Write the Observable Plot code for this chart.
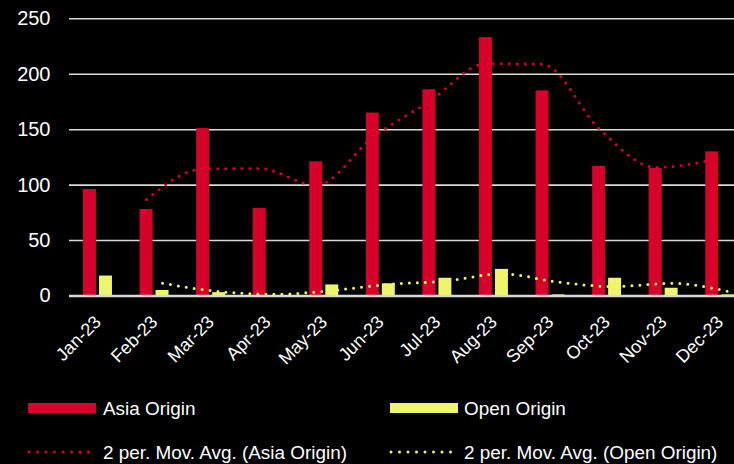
<!DOCTYPE html>
<html>
<head>
<meta charset="utf-8">
<script src="https://cdn.jsdelivr.net/npm/d3@7"></script>
<script src="https://cdn.jsdelivr.net/npm/@observablehq/plot@0.6"></script>
<style>
  html, body { margin: 0; padding: 0; background: #000; overflow: hidden; }
  body { width: 734px; height: 464px; position: relative; font-family: "Liberation Sans", Arial, sans-serif; color: #fff; }
  #chart { position: absolute; left: 0; top: 0; }
  .leg { position: absolute; font-size: 18.9px; line-height: 18px; color: #fff; white-space: nowrap; }
  .sw { position: absolute; }
</style>
</head>
<body>
<div id="chart"></div>
<div id="legend"></div>
<script>
const months = ["Jan-23","Feb-23","Mar-23","Apr-23","May-23","Jun-23","Jul-23","Aug-23","Sep-23","Oct-23","Nov-23","Dec-23"];
const asiaOrigin = [96, 78, 151, 79, 121, 165, 186, 233, 185, 117, 115, 130];
const openOrigin = [18, 5, 3, 0, 10, 11, 16, 24, 1, 16, 7, 1];
const yTicks = [0, 50, 100, 150, 200, 250];
const seriesNames = ["Asia Origin", "Open Origin", "2 per. Mov. Avg. (Asia Origin)", "2 per. Mov. Avg. (Open Origin)"];

const RED = "#d6002b";
const YELLOW = "#eef56b";

const data = months.map((m, i) => ({month: m, asia: asiaOrigin[i], open: openOrigin[i]}));
const ma = months.slice(1).map((m, k) => ({
  month: m,
  asiaMA: (asiaOrigin[k] + asiaOrigin[k + 1]) / 2,
  openMA: (openOrigin[k] + openOrigin[k + 1]) / 2
}));

const plot = Plot.plot({
  width: 734,
  height: 392,
  marginLeft: 69,
  marginRight: 0,
  marginTop: 18,
  marginBottom: 96,
  style: {background: "#000", color: "#fff", fontFamily: "'Liberation Sans', Arial, sans-serif", overflow: "visible"},
  x: {type: "band", domain: months, range: [69.2, 748], padding: 0, round: false, axis: null},
  y: {domain: [0, 250], range: [295.5, 18.3], axis: null},
  marks: [
    Plot.gridY(yTicks.filter(t => t > 0), {stroke: "#d9d9d9", strokeOpacity: 1, strokeWidth: 1.6}),
    Plot.axisY(yTicks, {tickSize: 0, tickPadding: 19, fontSize: 20, fill: "#fff", anchor: "left"}),
    Plot.barY(data, {x: "month", y: "asia", fill: RED, insetLeft: 13.8, insetRight: 29.8}),
    Plot.barY(data, {x: "month", y: "open", fill: YELLOW, insetLeft: 29.8, insetRight: 13.8}),
    Plot.ruleY([0], {stroke: "#d9d9d9", strokeWidth: 2.6}),
    Plot.line(ma, {x: "month", y: "asiaMA", stroke: RED, strokeWidth: 3, strokeDasharray: "0 8", strokeLinecap: "round", curve: "monotone-x", dx: -8}),
    Plot.line(ma, {x: "month", y: "openMA", stroke: YELLOW, strokeWidth: 3, strokeDasharray: "0 8", strokeLinecap: "round", curve: "monotone-x", dx: 8}),
    Plot.text(months, {x: d => d, y: () => 0, text: d => d, rotate: -45, textAnchor: "end", lineAnchor: "middle", dx: 0, dy: 23, fontSize: 18, fill: "#fff"})
  ]
});
document.getElementById("chart").appendChild(plot);

// Legend
const legend = document.getElementById("legend");
const legendItems = [
  {name: seriesNames[0], color: RED, type: "bar", x: 28, textX: 103, y: 408, top: 400},
  {name: seriesNames[1], color: YELLOW, type: "bar", x: 390, textX: 464, y: 408, top: 400},
  {name: seriesNames[2], color: RED, type: "dot", x: 28, textX: 103, y: 452, top: 443.5},
  {name: seriesNames[3], color: YELLOW, type: "dot", x: 390, textX: 464, y: 452, top: 443.5}
];
legendItems.forEach(it => {
  const ns = "http://www.w3.org/2000/svg";
  const svg = document.createElementNS(ns, "svg");
  svg.setAttribute("width", 72);
  svg.setAttribute("height", 14);
  svg.setAttribute("class", "sw");
  svg.style.left = (it.x - 1) + "px";
  svg.style.top = (it.y - 7) + "px";
  if (it.type === "bar") {
    const r = document.createElementNS(ns, "rect");
    r.setAttribute("x", 1); r.setAttribute("y", 2); r.setAttribute("width", 68); r.setAttribute("height", 10);
    r.setAttribute("fill", it.color);
    svg.appendChild(r);
  } else {
    const l = document.createElementNS(ns, "line");
    l.setAttribute("x1", 2); l.setAttribute("x2", 70); l.setAttribute("y1", 7); l.setAttribute("y2", 7);
    l.setAttribute("stroke", it.color); l.setAttribute("stroke-width", 3);
    l.setAttribute("stroke-linecap", "round"); l.setAttribute("stroke-dasharray", "0 8.5");
    svg.appendChild(l);
  }
  legend.appendChild(svg);
  const t = document.createElement("div");
  t.className = "leg";
  t.style.left = it.textX + "px";
  t.style.top = it.top + "px";
  t.textContent = it.name;
  legend.appendChild(t);
});
</script>
</body>
</html>
